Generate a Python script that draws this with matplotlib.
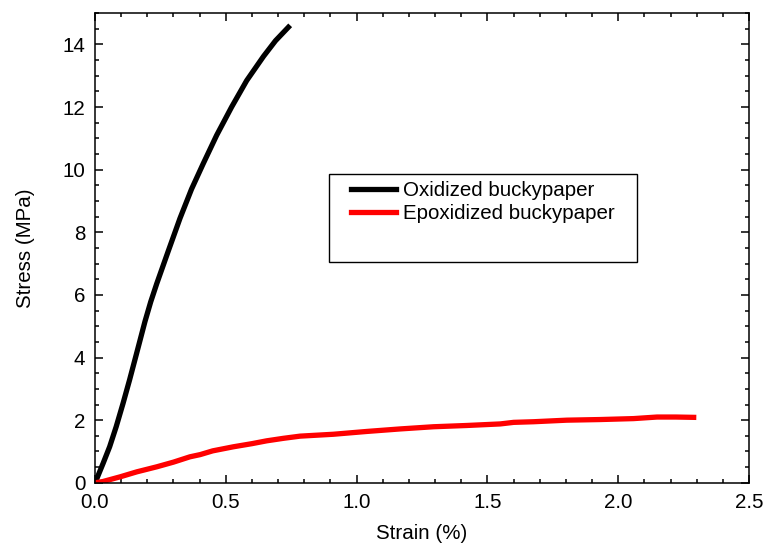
import matplotlib
matplotlib.use("Agg")
import matplotlib.pyplot as plt
from matplotlib.patches import Rectangle
from matplotlib.ticker import MultipleLocator

# data
strain_ox = [0, 0.005, 0.031, 0.056, 0.081, 0.107, 0.132, 0.158, 0.191, 0.213,
             0.236, 0.280, 0.325, 0.369, 0.414, 0.465, 0.522, 0.580, 0.644,
             0.690, 0.739]
stress_ox = [0, 0.09, 0.62, 1.15, 1.79, 2.53, 3.28, 4.10, 5.15, 5.78,
             6.36, 7.40, 8.45, 9.38, 10.2, 11.1, 12.0, 12.85, 13.62,
             14.12, 14.55]

strain_ep = [0, 0.03, 0.096, 0.16, 0.236, 0.30, 0.363, 0.402, 0.45, 0.529,
             0.60, 0.656, 0.72, 0.784, 0.911, 1.039, 1.166, 1.294, 1.42, 1.549,
             1.60, 1.676, 1.803, 1.93, 2.058, 2.148, 2.22, 2.288]
stress_ep = [0, 0.04, 0.19, 0.35, 0.51, 0.66, 0.83, 0.90, 1.02, 1.15,
             1.25, 1.34, 1.42, 1.49, 1.55, 1.64, 1.72, 1.79, 1.83, 1.88,
             1.93, 1.95, 2.0, 2.02, 2.05, 2.1, 2.1, 2.09]

labels = ["Oxidized buckypaper", "Epoxidized buckypaper"]

plt.rcParams["font.family"] = ["Liberation Sans", "DejaVu Sans"]
fs = 14.8

fig = plt.figure(figsize=(7.66, 5.48), dpi=100)
ax = fig.add_axes([0.124, 0.119, 0.854, 0.857])

ax.plot(strain_ox, stress_ox, color="black", lw=3.8, label=labels[0],
        solid_joinstyle="round")
ax.plot(strain_ep, stress_ep, color="red", lw=3.8, label=labels[1],
        solid_joinstyle="round")

ax.set_xlim(0, 2.5)
ax.set_ylim(0, 15)
ax.xaxis.set_major_locator(MultipleLocator(0.5))
ax.xaxis.set_minor_locator(MultipleLocator(0.1))
ax.yaxis.set_major_locator(MultipleLocator(2))
ax.yaxis.set_minor_locator(MultipleLocator(0.5))
ax.tick_params(which="both", direction="in", top=True, right=True,
               width=1.1, labelsize=fs)
ax.tick_params(which="major", length=5.5)
ax.tick_params(which="minor", length=3)
ax.tick_params(axis="x", which="major", pad=7)
ax.tick_params(axis="y", which="major", pad=7)
for s in ax.spines.values():
    s.set_linewidth(1.1)

ax.set_xlabel("Strain (%)", fontsize=fs, labelpad=9)
ax.set_ylabel("Stress (MPa)", fontsize=fs, labelpad=20)

# legend frame drawn separately (box is taller than the two entries)
fig.patches.append(Rectangle((329 / 766, 1 - 262 / 548), 308 / 766, 88 / 548,
                             transform=fig.transFigure, fill=False,
                             edgecolor="black", lw=1.0))
ax.legend(loc="upper left", bbox_to_anchor=(351 / 766, 1 - 181 / 548),
          bbox_transform=fig.transFigure, frameon=False, fontsize=fs,
          handlelength=2.2, handletextpad=0.35, labelspacing=0.2,
          borderpad=0, borderaxespad=0)

fig.savefig("out.png", dpi=100)
